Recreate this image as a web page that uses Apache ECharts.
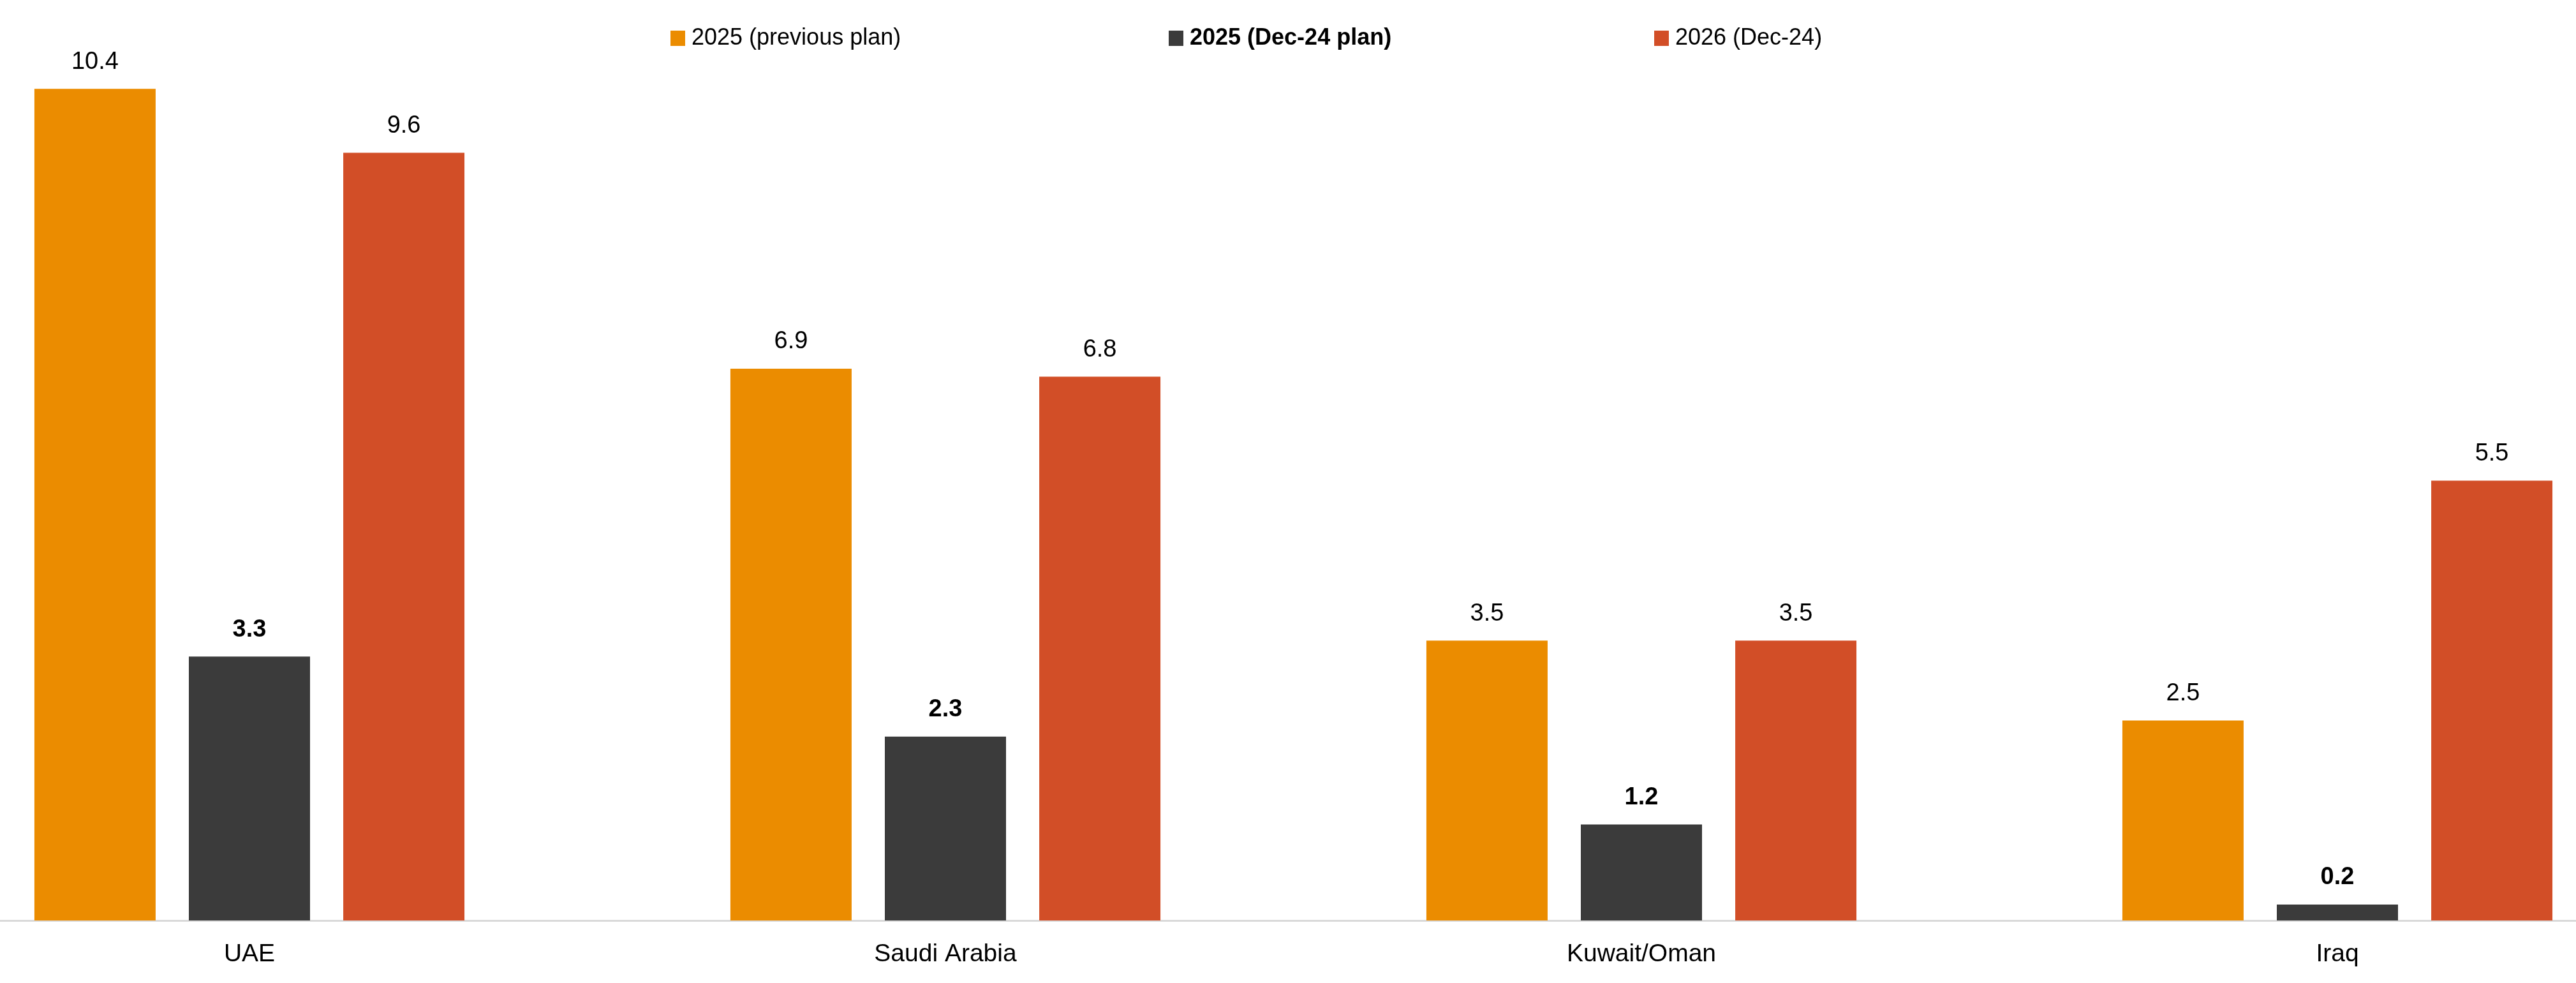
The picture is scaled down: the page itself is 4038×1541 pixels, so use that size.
<!DOCTYPE html>
<html>
<head>
<meta charset="utf-8">
<script src="https://cdn.jsdelivr.net/npm/echarts@6/dist/echarts.min.js"></script>
<style>html,body{margin:0;padding:0;background:#fff;}#c{width:4038px;height:1541px;}</style>
</head>
<body>
<div id="c"></div>
<script>
const categories = ['UAE', 'Saudi Arabia', 'Kuwait/Oman', 'Iraq'];
const seriesNames = ['2025 (previous plan)', '2025 (Dec-24 plan)', '2026 (Dec-24)'];
const prevPlan2025 = [10.4, 6.9, 3.5, 2.5];
const dec24Plan2025 = [3.3, 2.3, 1.2, 0.2];
const dec24Plan2026 = [9.6, 6.8, 3.5, 5.5];
const colors = ['#EB8C00', '#3B3B3B', '#D24E27'];

const FONT = '"Liberation Sans", Arial, sans-serif';
const chart = echarts.init(document.getElementById('c'), null, {renderer: 'canvas'});

function legend(i, left) {
  return {
    data: [seriesNames[i]], left: left, top: 42,
    itemWidth: 23, itemHeight: 24, icon: 'rect', padding: 0,
    textStyle: {fontFamily: FONT, fontSize: 36, color: '#000', fontWeight: i === 1 ? 'bold' : 'normal', padding: [0, 0, 0, 5]}
  };
}

function bar(i, values) {
  return {
    name: seriesNames[i], type: 'bar', data: values, barWidth: 190, barGap: '27.4%',
    itemStyle: {color: colors[i]},
    label: {show: true, position: 'top', distance: 23, fontFamily: FONT, fontSize: 38, color: '#000',
      fontWeight: i === 1 ? 'bold' : 'normal', formatter: p => p.value.toFixed(1)},
    emphasis: {disabled: true}
  };
}

chart.setOption({
  animation: false,
  backgroundColor: '#fff',
  legend: [legend(0, 1051), legend(1, 1832), legend(2, 2593)],
  grid: {left: -154.5, width: 4364, top: 64, bottom: 98, containLabel: false, outerBoundsMode: 'none'},
  xAxis: {
    type: 'category', data: categories, boundaryGap: true,
    axisLine: {show: true, lineStyle: {color: '#D9D9D9', width: 3}},
    axisTick: {show: false},
    axisLabel: {fontFamily: FONT, fontSize: 39, color: '#000', margin: 34}
  },
  yAxis: {type: 'value', min: 0, max: 11, show: false, splitLine: {show: false}},
  series: [bar(0, prevPlan2025), bar(1, dec24Plan2025), bar(2, dec24Plan2026)]
});
</script>
</body>
</html>
